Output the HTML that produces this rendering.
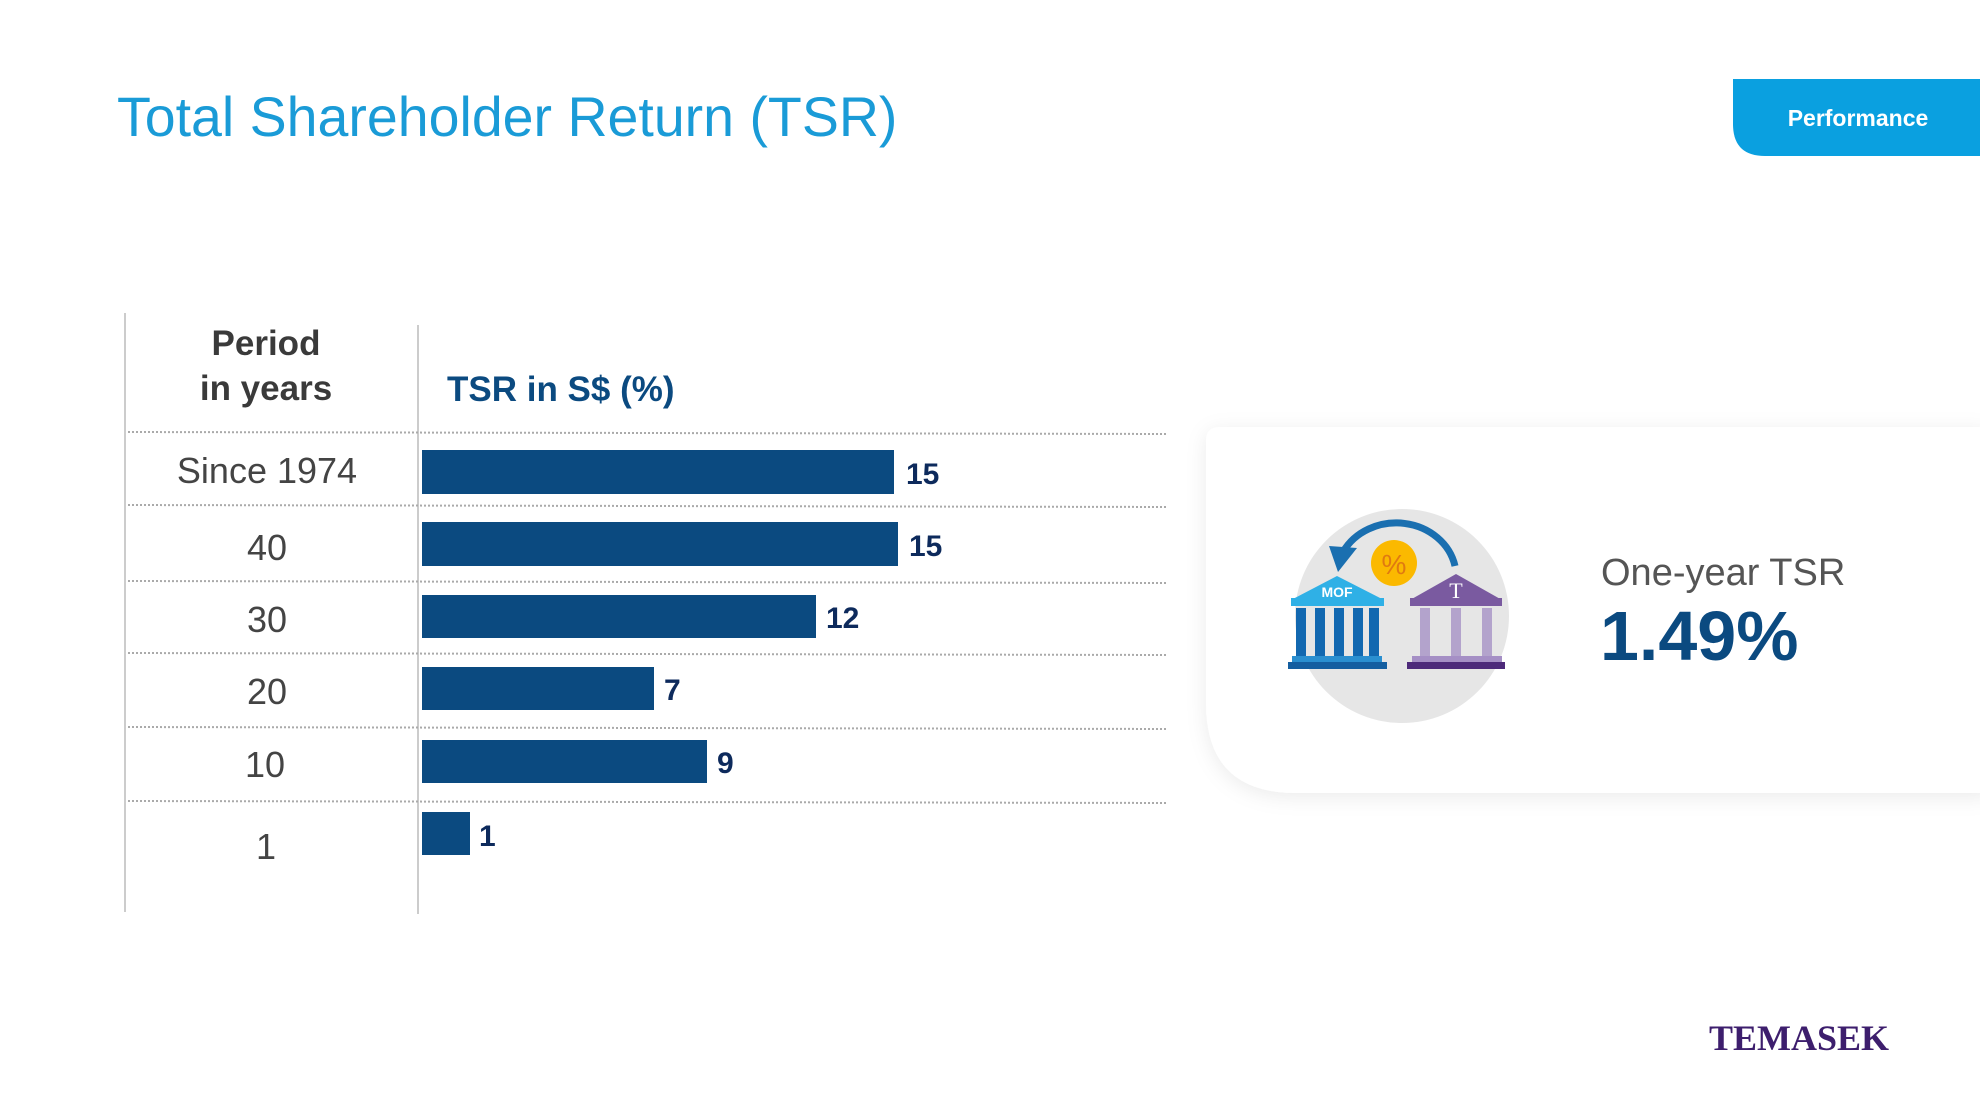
<!DOCTYPE html>
<html><head><meta charset="utf-8"><style>
html,body{margin:0;padding:0;background:#fff;}
body{width:1980px;height:1114px;overflow:hidden;position:relative;font-family:"Liberation Sans",sans-serif;}
</style></head><body>
<svg width="1980" height="1114" viewBox="0 0 1980 1114" xmlns="http://www.w3.org/2000/svg" style="position:absolute;left:0;top:0">
<defs>
<filter id="sh" x="-10%" y="-20%" width="130%" height="150%"><feDropShadow dx="0" dy="4" stdDeviation="10" flood-color="#000" flood-opacity="0.08"/></filter>
</defs>
<text x="117" y="136" font-family="Liberation Sans, sans-serif" font-size="55.5" fill="#1a9bd7">Total Shareholder Return (TSR)</text>
<path d="M1733 79 H1980 V156 H1765 Q1733 156 1733 124 Z" fill="#0aa0e0"/>
<text x="1858" y="126" text-anchor="middle" font-family="Liberation Sans, sans-serif" font-weight="bold" font-size="23" fill="#fff">Performance</text>

<path d="M1220 427 H1990 V793 H1296 Q1206 793 1206 703 V441 Q1206 427 1220 427 Z" fill="#fff" filter="url(#sh)"/>

<line x1="125" y1="313" x2="125" y2="912" stroke="#ccc" stroke-width="2"/>
<line x1="418" y1="325" x2="418" y2="914" stroke="#ccc" stroke-width="2"/>
<g stroke="#aaa" stroke-width="2" stroke-dasharray="2 2">
<line x1="128" y1="432" x2="1167" y2="434"/>
<line x1="128" y1="505" x2="1167" y2="507"/>
<line x1="128" y1="581" x2="1167" y2="583"/>
<line x1="128" y1="653" x2="1167" y2="655"/>
<line x1="128" y1="727" x2="1167" y2="729"/>
<line x1="128" y1="801" x2="1167" y2="803"/>
</g>
<g font-family="Liberation Sans, sans-serif" font-weight="bold" font-size="35" fill="#3a3a3a" text-anchor="middle">
<text x="266" y="355">Period</text>
<text x="266" y="400">in years</text>
</g>
<text x="447" y="401" font-family="Liberation Sans, sans-serif" font-weight="bold" font-size="35" fill="#0b4a80">TSR in S$ (%)</text>
<g font-family="Liberation Sans, sans-serif" font-size="36" fill="#444" text-anchor="middle">
<text x="267" y="483">Since 1974</text>
<text x="267" y="560">40</text>
<text x="267" y="632">30</text>
<text x="267" y="704">20</text>
<text x="265" y="777">10</text>
<text x="266" y="859">1</text>
</g>
<g fill="#0b4a80">
<rect x="422" y="450" width="472" height="44"/>
<rect x="422" y="522" width="476" height="44"/>
<rect x="422" y="595" width="394" height="43"/>
<rect x="422" y="667" width="232" height="43"/>
<rect x="422" y="740" width="285" height="43"/>
<rect x="422" y="812" width="48" height="43"/>
</g>
<g font-family="Liberation Sans, sans-serif" font-weight="bold" font-size="30" fill="#0d2a5c">
<text x="906" y="484">15</text>
<text x="909" y="556">15</text>
<text x="826" y="628">12</text>
<text x="664" y="700">7</text>
<text x="717" y="773">9</text>
<text x="479" y="846">1</text>
</g>

<circle cx="1402" cy="616" r="107" fill="#e6e6e6"/>
<path d="M1455 566 A60 54 0 0 0 1343 552" fill="none" stroke="#1a6fb0" stroke-width="7"/>
<polygon points="1329,546 1357,548 1338,572" fill="#1a6fb0"/>
<circle cx="1394" cy="563" r="23" fill="#fbb900"/>
<text x="1394" y="574" text-anchor="middle" font-family="Liberation Sans, sans-serif" font-size="28" fill="#e07a10">%</text>
<polygon points="1291,600 1337,576 1384,600" fill="#2fb0e6"/>
<rect x="1291" y="598" width="93" height="8" fill="#2fb0e6"/>
<text x="1337" y="597" text-anchor="middle" font-family="Liberation Sans, sans-serif" font-weight="bold" font-size="14" fill="#fff">MOF</text>
<g fill="#1268b0"><rect x="1296" y="608" width="10" height="50"/><rect x="1315" y="608" width="10" height="50"/><rect x="1334" y="608" width="10" height="50"/><rect x="1353" y="608" width="10" height="50"/><rect x="1369" y="608" width="10" height="50"/></g>
<rect x="1292" y="656" width="90" height="6" fill="#2a8fd0"/>
<rect x="1288" y="662" width="99" height="7" fill="#145ea0"/>
<polygon points="1410,600 1456,574 1502,600" fill="#7a5aa0"/>
<rect x="1410" y="598" width="92" height="8" fill="#7a5aa0"/>
<text x="1456" y="598" text-anchor="middle" font-family="Liberation Serif, serif" font-size="22" fill="#fff">T</text>
<g fill="#b3a3cc"><rect x="1420" y="608" width="10" height="50"/><rect x="1451" y="608" width="10" height="50"/><rect x="1482" y="608" width="10" height="50"/></g>
<rect x="1412" y="656" width="90" height="6" fill="#a58fc5"/>
<rect x="1407" y="662" width="98" height="7" fill="#4d2a7a"/>

<text x="1601" y="585" font-family="Liberation Sans, sans-serif" font-size="38" fill="#555">One-year TSR</text>
<text x="1600" y="660" font-family="Liberation Sans, sans-serif" font-weight="bold" font-size="70" fill="#0b4a80">1.49%</text>

<text x="1709" y="1050" font-family="Liberation Serif, serif" font-weight="bold" font-size="36" fill="#3d1e6d">TEMASEK</text>
</svg>
</body></html>
